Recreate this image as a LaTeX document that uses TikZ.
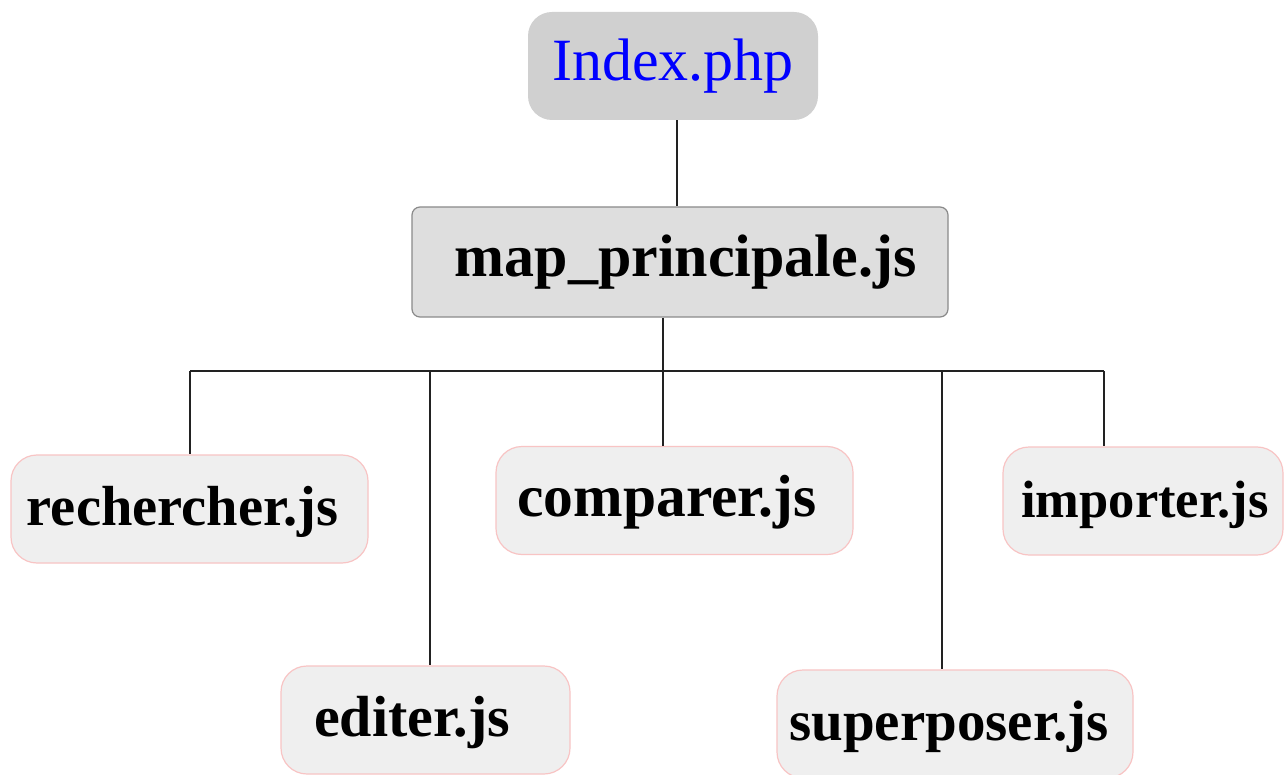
\documentclass[tikz,border=0pt]{standalone}
\usepackage{fontspec}
\setmainfont{Liberation Serif}
\definecolor{rootfill}{HTML}{D0D0D0}
\definecolor{mainfill}{HTML}{DEDEDE}
\definecolor{mainline}{HTML}{8A8A8A}
\definecolor{leaffill}{HTML}{EFEFEF}
\definecolor{leafline}{HTML}{F8C4C4}
\definecolor{wire}{HTML}{222222}
\newcommand{\leafsize}[1]{\bfseries\fontsize{#1}{#1}\selectfont}
\begin{document}
\begin{tikzpicture}[x=1pt,y=1pt,
  rootbox/.style={fill=rootfill, draw=none, rounded corners=24pt,
    minimum width=290pt, minimum height=108pt, inner sep=0pt,
    text=blue, font=\fontsize{60}{66}\selectfont},
  mainbox/.style={fill=mainfill, draw=mainline, line width=1.2pt, rounded corners=8pt,
    minimum width=536pt, minimum height=110pt, inner sep=0pt,
    text height=42pt, text depth=12pt,
    font=\bfseries\fontsize{60}{66}\selectfont},
  leafbox/.style={fill=leaffill, draw=leafline, line width=1.2pt, rounded corners=26pt,
    minimum height=108pt, inner sep=0pt, text height=44pt, text depth=12pt},
  wireline/.style={draw=wire, line width=1.1pt}
]
\useasboundingbox (0,0) rectangle (1284,-775);
\fill[white] (0,0) rectangle (1284,-775);

% nodes
\node[rootbox] (root) at (673,-66) {Index.php};
\node[mainbox] (main) at (680,-262) {\hspace*{11pt}map\_principale.js};
\node[leafbox, minimum width=357pt, font=\leafsize{56.5}] (rech) at (189.5,-509) {\hspace*{-14pt}rechercher.js};
\node[leafbox, minimum width=357pt, font=\leafsize{59.5}] (comp) at (674.5,-500.5) {\hspace*{-15pt}comparer.js};
\node[leafbox, minimum width=280pt, font=\leafsize{52.5}] (impo) at (1143,-501) {\hspace*{4pt}importer.js};
\node[leafbox, minimum width=289pt, font=\leafsize{58}] (edit) at (425.5,-720) {\hspace*{-27pt}editer.js};
\node[leafbox, minimum width=356pt, font=\leafsize{57}] (supe) at (955,-724) {\hspace*{-12pt}superposer.js};

% distribution bar below the main script
\coordinate (bar) at (663,-371);
\coordinate (b1) at (190,-371);
\coordinate (b2) at (430,-371);
\coordinate (b3) at (663,-371);
\coordinate (b4) at (942,-371);
\coordinate (b5) at (1104,-371);

% connectors
\draw[wireline] (root.south -| 677,0) -- (main.north -| 677,0);
\draw[wireline] (main.south -| bar) -- (bar);
\draw[wireline] (b1) -- (b5);
\draw[wireline] (b1) -- (b1 |- rech.north);
\draw[wireline] (b2) -- (b2 |- edit.north);
\draw[wireline] (b3) -- (b3 |- comp.north);
\draw[wireline] (b4) -- (b4 |- supe.north);
\draw[wireline] (b5) -- (b5 |- impo.north);
\end{tikzpicture}
\end{document}
